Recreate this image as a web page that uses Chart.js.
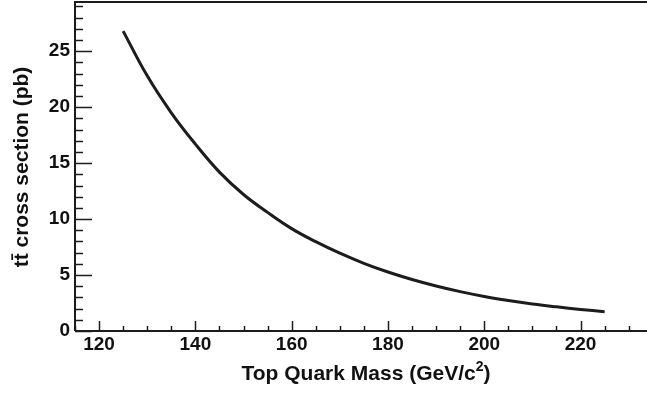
<!DOCTYPE html>
<html>
<head>
<meta charset="utf-8">
<script src="https://cdn.jsdelivr.net/npm/chart.js@4/dist/chart.umd.min.js"></script>
<style>
  html, body { margin: 0; padding: 0; background: #fff; }
  #wrap { width: 647px; height: 395px; }
</style>
</head>
<body>
<div id="wrap"><canvas id="xsec"></canvas></div>
<script>
"use strict";

// top mass (GeV/c^2) and ttbar cross section (pb)
var topMass = [125, 130, 135, 140, 145, 150, 155, 160, 165, 170, 175,
               180, 185, 190, 195, 200, 205, 210, 215, 220, 225];
var xsec = [26.8, 22.8, 19.5, 16.7, 14.2, 12.2, 10.6, 9.15, 7.98, 6.95, 6.05,
            5.27, 4.6, 4.02, 3.52, 3.09, 2.73, 2.42, 2.16, 1.93, 1.73];

var xRange = [115, 233.8];
var yRange = [0, 29.4];
var xLabelEvery = 20;
var yLabelEvery = 5;

// x title is split so the exponent can be raised
var xTitleParts = ["Top Quark Mass (GeV/c", "2", ")"];
var yTitle = "tt\u0304 cross section (pb)";

var fontFamily = "'Liberation Sans', Arial, Helvetica, sans-serif";
var ink = "#1c1c1c";

var points = topMass.map(function(m, i) {
    return { x: m, y: xsec[i] };
});

// frame, inward tick marks and axis titles
var frame = {
    id: "frame",
    afterDraw: function(chart) {
        var ctx = chart.ctx;
        var a = chart.chartArea;
        var x = chart.scales.x, y = chart.scales.y;
        ctx.save();
        ctx.strokeStyle = ink;
        ctx.lineWidth = 2;
        ctx.beginPath();
        ctx.moveTo(a.left, a.bottom);
        ctx.lineTo(a.left, a.top);
        ctx.lineTo(a.right, a.top);
        ctx.moveTo(a.left, a.bottom);
        ctx.lineTo(a.right, a.bottom);
        ctx.stroke();

        ctx.lineWidth = 1.5;
        ctx.beginPath();
        for (var v = 115; v <= x.max; v += 5) {
            var px = Math.round(x.getPixelForValue(v)) + 0.5;
            var len = v % xLabelEvery === 0 ? 10 : 5;
            ctx.moveTo(px, a.bottom);
            ctx.lineTo(px, a.bottom - len);
        }
        for (var w = 0; w <= y.max; w += 1) {
            var py = Math.round(y.getPixelForValue(w)) + 0.5;
            var l = w % yLabelEvery === 0 ? 17 : 8;
            ctx.moveTo(a.left, py);
            ctx.lineTo(a.left + l, py);
        }
        ctx.stroke();

        ctx.fillStyle = "#111";
        ctx.textBaseline = "alphabetic";
        ctx.textAlign = "left";
        var big = "bold 21px " + fontFamily;
        var small = "bold 14px " + fontFamily;
        ctx.font = big;
        var w0 = ctx.measureText(xTitleParts[0]).width;
        var w2 = ctx.measureText(xTitleParts[2]).width;
        ctx.font = small;
        var w1 = ctx.measureText(xTitleParts[1]).width;
        var tx = 366 - (w0 + w1 + w2) / 2;
        ctx.font = big;
        ctx.fillText(xTitleParts[0], tx, 380);
        ctx.font = small;
        ctx.fillText(xTitleParts[1], tx + w0, 371);
        ctx.font = big;
        ctx.fillText(xTitleParts[2], tx + w0 + w1, 380);

        ctx.textAlign = "center";
        ctx.translate(28, 167);
        ctx.rotate(-Math.PI / 2);
        ctx.fillText(yTitle, 0, 0);
        ctx.restore();
    }
};

new Chart(document.getElementById("xsec"), {
    type: "line",
    data: {
        datasets: [{
            data: points,
            borderColor: ink,
            borderWidth: 3,
            pointRadius: 0,
            fill: false,
            tension: 0.4
        }]
    },
    options: {
        responsive: true,
        maintainAspectRatio: false,
        animation: false,
        layout: { padding: { top: 2, left: 0, right: 0, bottom: 0 } },
        plugins: {
            legend: { display: false },
            tooltip: { enabled: false }
        },
        scales: {
            x: {
                type: "linear",
                min: xRange[0],
                max: xRange[1],
                afterFit: function(s) {
                    s.height = 64;
                    s.paddingLeft = 0;
                    s.paddingRight = 0;
                },
                grid: { display: true, drawOnChartArea: false, drawTicks: false, color: "rgba(0,0,0,0)" },
                border: { display: false },
                ticks: {
                    stepSize: 5,
                    autoSkip: false,
                    maxRotation: 0,
                    padding: 2,
                    color: "#111",
                    font: { family: fontFamily, size: 19, weight: "bold" },
                    callback: function(v) { return v % xLabelEvery === 0 ? v : ""; }
                }
            },
            y: {
                min: yRange[0],
                max: yRange[1],
                afterFit: function(s) {
                    s.width = 75;
                    s.paddingTop = 0;
                    s.paddingBottom = 0;
                },
                grid: { display: true, drawOnChartArea: false, drawTicks: false, color: "rgba(0,0,0,0)" },
                border: { display: false },
                ticks: {
                    stepSize: 1,
                    autoSkip: false,
                    padding: 5,
                    color: "#111",
                    font: { family: fontFamily, size: 19, weight: "bold" },
                    callback: function(v) { return v % yLabelEvery === 0 ? v : ""; }
                }
            }
        }
    },
    plugins: [frame]
});
</script>
</body>
</html>
